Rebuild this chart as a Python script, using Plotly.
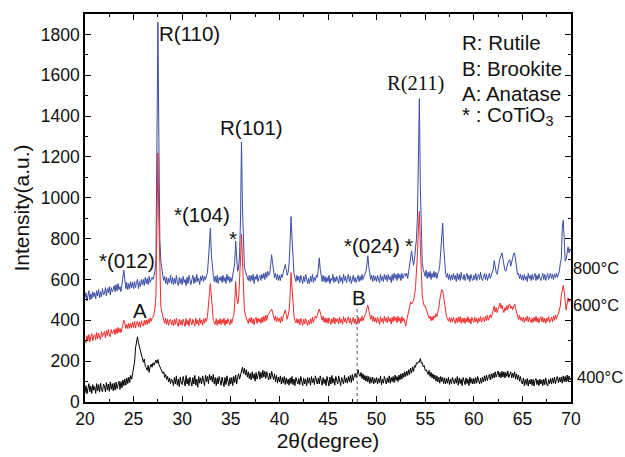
import numpy as np
import plotly.graph_objects as go

# 2-theta grid, 0.1 degree steps from 20 to 70
two_theta = np.round(np.arange(20.0, 70.05, 0.1), 1)

# Intensity (a.u.) of the 800 °C sample, one row per degree
i_800 = [
    510, 535, 495, 525, 545, 500, 530, 505, 540, 515,
    535, 505, 545, 520, 550, 510, 540, 515, 555, 525,
    530, 560, 520, 555, 535, 565, 525, 560, 540, 550,
    570, 540, 575, 545, 580, 550, 565, 540, 575, 600,
    645, 600, 555, 585, 550, 580, 555, 590, 560, 585,
    555, 590, 560, 585, 600, 555, 590, 565, 600, 575,
    600, 570, 610, 580, 605, 575, 615, 585, 600, 610,
    600, 625, 640, 700, 1150, 1860, 1280, 800, 690, 640,
    620, 595, 615, 580, 610, 575, 605, 585, 620, 580,
    610, 575, 605, 580, 620, 585, 570, 610, 580, 605,
    575, 615, 585, 600, 570, 610, 580, 620, 595, 575,
    600, 620, 580, 610, 585, 625, 590, 605, 575, 615,
    595, 620, 590, 615, 600, 625, 635, 700, 790, 851,
    720, 650, 620, 590, 615, 585, 620, 580, 610, 595,
    615, 585, 620, 590, 610, 580, 625, 595, 615, 585,
    610, 590, 620, 630, 680, 789, 710, 640, 655, 720,
    900, 1272, 950, 720, 660, 640, 625, 615, 595, 620,
    590, 620, 595, 625, 580, 615, 600, 625, 590, 610,
    620, 595, 625, 605, 630, 600, 635, 610, 640, 620,
    630, 670, 721, 680, 635, 610, 630, 600, 625, 595,
    620, 595, 625, 610, 635, 655, 673, 650, 620, 635,
    680, 780, 908, 800, 680, 630, 610, 590, 620, 595,
    615, 585, 620, 600, 580, 615, 590, 625, 590, 580,
    605, 580, 615, 590, 625, 585, 610, 595, 620, 610,
    650, 706, 650, 615, 590, 620, 590, 615, 585, 610,
    590, 620, 580, 605, 595, 625, 585, 610, 590, 615,
    600, 580, 620, 590, 610, 580, 625, 595, 615, 585,
    610, 625, 590, 615, 580, 605, 620, 590, 610, 585,
    600, 620, 590, 615, 595, 625, 600, 615, 630, 640,
    670, 716, 660, 620, 600, 620, 590, 620, 595, 615,
    590, 620, 600, 585, 625, 595, 615, 590, 625, 600,
    620, 590, 625, 600, 615, 585, 625, 595, 630, 605,
    625, 595, 630, 605, 625, 595, 630, 605, 620, 630,
    615, 630, 605, 635, 660, 705, 740, 700, 670, 700,
    740, 800, 900, 1150, 1485, 1050, 780, 680, 650, 630,
    615, 645, 605, 635, 610, 640, 600, 630, 610, 640,
    610, 635, 605, 630, 640, 670, 740, 830, 876, 760,
    670, 630, 610, 630, 600, 625, 595, 620, 600, 630,
    600, 620, 590, 630, 600, 625, 595, 635, 605, 600,
    625, 595, 615, 630, 600, 620, 590, 625, 605, 595,
    620, 600, 630, 595, 615, 625, 600, 635, 605, 595,
    615, 630, 600, 625, 595, 620, 630, 605, 625, 640,
    650, 692, 660, 635, 625, 655, 670, 705, 715, 730,
    700, 665, 645, 640, 665, 680, 690, 697, 665, 690,
    710, 725, 730, 690, 650, 625, 630, 605, 625, 600,
    620, 595, 625, 600, 615, 590, 630, 605, 620, 595,
    625, 600, 615, 630, 595, 620, 600, 628, 605, 595,
    615, 630, 600, 625, 595, 620, 630, 600, 620, 630,
    605, 625, 600, 625, 610, 630, 610, 625, 640, 680,
    700, 850, 890, 800, 690, 700, 740, 760, 730, 750,
    740,
]

# Intensity (a.u.) of the 600 °C sample
i_600 = [
    305, 290, 325, 300, 330, 295, 320, 335, 300, 325,
    330, 305, 340, 310, 335, 315, 305, 345, 320, 335,
    345, 315, 350, 325, 355, 330, 320, 355, 335, 345,
    355, 330, 360, 335, 365, 340, 360, 340, 365, 380,
    400, 385, 360, 380, 360, 385, 360, 385, 365, 390,
    365, 395, 362, 388, 395, 368, 392, 365, 398, 380,
    372, 400, 378, 402, 380, 405, 385, 412, 395, 410,
    415, 430, 460, 520, 800, 1220, 880, 560, 470, 440,
    420, 400, 385, 410, 380, 405, 375, 400, 405, 378,
    400, 372, 405, 380, 410, 382, 370, 405, 378, 400,
    375, 405, 382, 370, 408, 380, 400, 372, 410, 385,
    378, 405, 385, 372, 410, 382, 402, 375, 410, 385,
    402, 375, 408, 385, 410, 395, 420, 460, 530, 580,
    510, 440, 400, 390, 380, 408, 375, 402, 382, 408,
    378, 405, 385, 410, 375, 402, 382, 408, 388, 378,
    405, 385, 410, 420, 480, 590, 520, 480, 500, 580,
    700, 822, 700, 520, 450, 425, 410, 395, 385, 410,
    390, 415, 385, 408, 378, 405, 415, 385, 410, 392,
    408, 385, 415, 390, 420, 395, 425, 400, 425, 430,
    438, 450, 455, 440, 415, 400, 420, 392, 415, 395,
    410, 388, 418, 395, 420, 435, 450, 430, 405, 425,
    450, 520, 634, 560, 460, 420, 400, 388, 408, 385,
    405, 378, 410, 385, 375, 405, 382, 408, 385, 375,
    400, 380, 408, 385, 415, 390, 410, 420, 410, 430,
    445, 455, 440, 415, 400, 420, 390, 412, 388, 410,
    385, 412, 392, 380, 408, 388, 415, 382, 410, 392,
    408, 382, 415, 388, 405, 380, 418, 392, 410, 385,
    405, 418, 388, 410, 380, 405, 415, 385, 408, 380,
    392, 415, 385, 410, 395, 420, 398, 412, 420, 435,
    460, 474, 450, 425, 405, 425, 395, 418, 392, 412,
    388, 415, 395, 380, 418, 392, 410, 385, 420, 395,
    412, 388, 418, 395, 410, 382, 415, 392, 420, 398,
    415, 388, 420, 395, 412, 385, 418, 395, 410, 390,
    372, 400, 420, 445, 470, 490, 480, 485, 500, 520,
    560, 620, 720, 850, 933, 760, 600, 520, 490, 470,
    470, 455, 440, 425, 410, 420, 398, 418, 400, 422,
    412, 432, 418, 442, 460, 500, 530, 552, 545, 510,
    470, 440, 418, 405, 395, 415, 390, 412, 392, 415,
    395, 385, 412, 388, 415, 392, 418, 385, 410, 390,
    412, 385, 410, 392, 418, 388, 408, 382, 415, 395,
    390, 415, 392, 410, 385, 412, 395, 418, 390, 410,
    415, 392, 420, 398, 425, 400, 422, 428, 412, 432,
    450, 470, 440, 462, 438, 455, 472, 485, 458, 475,
    452, 438, 462, 448, 472, 452, 476, 480, 458, 470,
    452, 470, 480, 458, 438, 422, 405, 425, 400, 415,
    395, 415, 390, 412, 398, 420, 392, 415, 400, 388,
    410, 390, 415, 395, 420, 392, 412, 388, 410, 418,
    392, 415, 390, 410, 385, 412, 395, 418, 390, 410,
    415, 392, 420, 400, 425, 405, 428, 430, 445, 470,
    520, 560, 571, 540, 470, 450, 480, 510, 490, 500,
    495,
]

# Intensity (a.u.) of the 400 °C sample
i_400 = [
    45, 80, 40, 75, 90, 50, 78, 42, 85, 58,
    75, 42, 90, 55, 85, 48, 92, 60, 50, 88,
    78, 50, 95, 58, 88, 52, 98, 62, 90, 55,
    92, 58, 98, 65, 90, 102, 62, 100, 70, 108,
    80, 112, 82, 118, 90, 122, 95, 130, 112, 140,
    150, 195, 265, 300, 319, 290, 270, 245, 225, 210,
    195, 210, 175, 168, 155, 180, 145, 172, 185, 170,
    192, 180, 200, 205, 190, 208, 185, 172, 158, 148,
    140, 148, 120, 135, 110, 125, 98, 118, 90, 112,
    105, 80, 120, 88, 128, 82, 112, 75, 122, 92,
    85, 125, 95, 78, 130, 88, 115, 80, 122, 98,
    78, 120, 88, 130, 82, 112, 72, 125, 92, 118,
    88, 128, 95, 80, 132, 100, 125, 90, 135, 108,
    128, 98, 135, 88, 120, 80, 118, 88, 125, 95,
    82, 122, 92, 75, 120, 85, 128, 95, 78, 118,
    88, 120, 80, 125, 95, 132, 88, 120, 138, 112,
    138, 155, 170, 140, 165, 132, 158, 122, 148, 115,
    140, 108, 148, 115, 138, 102, 145, 112, 132, 150,
    112, 145, 118, 155, 122, 150, 115, 148, 128, 108,
    142, 112, 150, 120, 110, 138, 100, 130, 92, 122,
    98, 128, 88, 120, 92, 125, 85, 118, 90, 112,
    82, 118, 90, 125, 85, 112, 80, 120, 95, 88,
    115, 85, 125, 95, 80, 118, 88, 112, 78, 120,
    92, 118, 82, 125, 95, 115, 85, 128, 98, 88,
    118, 88, 128, 95, 82, 120, 90, 112, 80, 125,
    95, 78, 122, 88, 130, 92, 115, 82, 125, 98,
    88, 128, 95, 80, 120, 100, 88, 130, 95, 118,
    92, 125, 100, 130, 95, 135, 105, 128, 140, 120,
    150, 158, 132, 125, 145, 115, 138, 108, 130, 102,
    128, 98, 125, 90, 120, 95, 122, 88, 115, 95,
    120, 88, 115, 95, 128, 85, 112, 92, 125, 98,
    88, 118, 95, 128, 92, 120, 100, 125, 95, 132,
    105, 125, 100, 132, 108, 138, 112, 142, 120, 148,
    125, 152, 130, 158, 135, 165, 142, 172, 150, 178,
    170, 192, 188, 198, 195, 213, 190, 192, 172, 178,
    155, 158, 150, 135, 155, 125, 145, 118, 138, 112,
    132, 102, 128, 98, 122, 92, 125, 100, 120, 90,
    118, 88, 115, 92, 122, 85, 112, 90, 120, 95,
    88, 115, 92, 125, 82, 118, 90, 112, 80, 120,
    95, 85, 118, 90, 112, 80, 122, 92, 115, 88,
    115, 90, 120, 92, 125, 98, 88, 118, 92, 122,
    98, 128, 102, 132, 105, 125, 135, 108, 138, 115,
    142, 118, 148, 122, 142, 152, 122, 145, 118, 150,
    122, 148, 118, 145, 125, 152, 120, 142, 148, 118,
    142, 120, 148, 112, 138, 110, 132, 102, 125, 98,
    88, 118, 80, 110, 85, 115, 78, 108, 88, 112,
    82, 110, 78, 105, 115, 85, 108, 80, 112, 88,
    108, 80, 112, 85, 118, 88, 78, 110, 90, 115,
    88, 118, 92, 122, 90, 115, 125, 95, 120, 98,
    122, 92, 128, 100, 125, 98, 132, 102, 128, 108,
    118,
]

FONT = "Liberation Sans, Arial, sans-serif"
SERIF = "Liberation Serif, Times New Roman, serif"

fig = go.Figure()
fig.add_trace(go.Scatter(x=two_theta, y=i_800, mode="lines",
                         line=dict(color="#3a4ba6", width=1), name="800°C"))
fig.add_trace(go.Scatter(x=two_theta, y=i_600, mode="lines",
                         line=dict(color="#ee2a2a", width=1), name="600°C"))
fig.add_trace(go.Scatter(x=two_theta, y=i_400, mode="lines",
                         line=dict(color="#000000", width=1), name="400°C"))

# Brookite marker line at 48°
fig.add_shape(type="line", x0=48, x1=48, y0=0, y1=475, xref="x", yref="y",
              line=dict(color="#555555", width=1, dash="dot"))


def label(text, x, y, size=20.5, family=FONT, xanchor="center", xref="x"):
    fig.add_annotation(x=x, y=y, xref=xref, yref="y", text=text, showarrow=False,
                       xanchor=xanchor, yanchor="middle",
                       font=dict(family=family, size=size, color="#111111"))


# Peak labels
label("R(110)", 30.7, 1805)
label("R(101)", 37.1, 1345)
label("*(104)", 32.06, 919)
label("*", 35.26, 803)
label("*(012)", 24.33, 692)
label("A", 25.67, 450)
label("*(024)", 49.48, 764)
label("*", 53.3, 764)
label("B", 48.14, 513)
label("R(211)", 53.97, 1558, size=20.5, family=SERIF)

# Phase key
label("R: Rutile", 58.56, 1761, xanchor="left")
label("B: Brookite", 58.56, 1635, xanchor="left")
label("A: Anatase", 58.56, 1510, xanchor="left")
label("* : CoTiO<sub>3</sub>", 58.56, 1400, xanchor="left")

# Temperature labels to the right of the frame
label("800°C", 1.0, 658, size=16.5, xanchor="left", xref="paper")
label("600°C", 1.0, 474, size=16.5, xanchor="left", xref="paper")
label("400°C", 1.008, 121, size=16.5, xanchor="left", xref="paper")

axis_common = dict(
    showline=True, linecolor="#000000", linewidth=1.5, mirror="allticks",
    ticks="inside", ticklen=6, tickwidth=1.2, tickcolor="#000000",
    showgrid=False, zeroline=False,
    tickfont=dict(family=FONT, size=17.5, color="#111111"),
)

fig.update_xaxes(range=[20, 70], dtick=5, tick0=20,
                 minor=dict(ticks="inside", ticklen=3, dtick=2.5, tickcolor="#000000"),
                 title=dict(text="2θ(degree)", font=dict(family=FONT, size=21, color="#111111"),
                            standoff=2),
                 **axis_common)
fig.update_yaxes(range=[0, 1900], dtick=200, tick0=0,
                 minor=dict(ticks="inside", ticklen=3, dtick=100, tickcolor="#000000"),
                 title=dict(text="Intensity(a.u.)", font=dict(family=FONT, size=21, color="#111111"),
                            standoff=5),
                 **axis_common)

fig.update_layout(
    width=625, height=457,
    margin=dict(l=85, r=54, t=13, b=51),
    plot_bgcolor="white", paper_bgcolor="white",
    showlegend=False,
)

fig.write_html("out.html")
